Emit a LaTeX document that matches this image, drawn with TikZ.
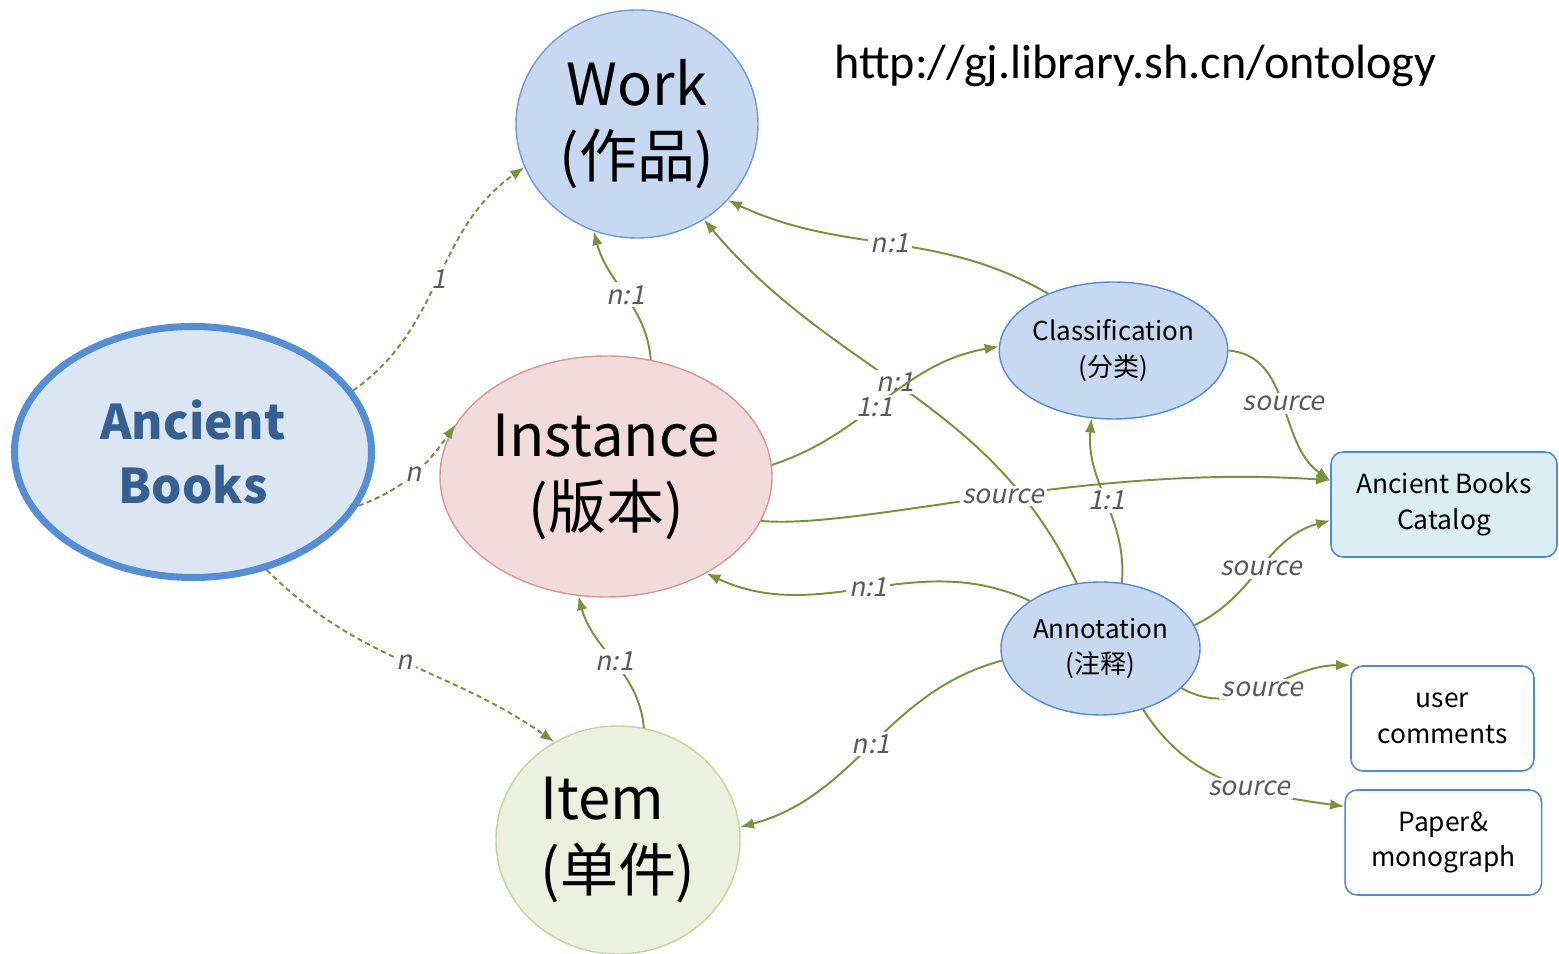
\documentclass[tikz,border=0pt]{standalone}
\usepackage{fontspec}
\setmainfont{Noto Sans CJK SC}
\newfontfamily\urlfont{Carlito}
\newfontfamily\lblfont[FakeSlant=0.2]{Noto Sans CJK SC}
\usetikzlibrary{shapes,arrows.meta,positioning}
\definecolor{arc}{RGB}{118,146,60}
\definecolor{lblgray}{RGB}{89,89,89}
\definecolor{workfill}{RGB}{198,217,240}
\definecolor{workline}{RGB}{108,155,214}
\definecolor{abfill}{RGB}{220,230,242}
\definecolor{abline}{RGB}{85,142,213}
\definecolor{abtext}{RGB}{55,96,146}
\definecolor{instfill}{RGB}{242,220,219}
\definecolor{instline}{RGB}{217,150,148}
\definecolor{itemfill}{RGB}{235,241,222}
\definecolor{itemline}{RGB}{195,214,155}
\definecolor{catfill}{RGB}{218,238,243}
\definecolor{boxline}{RGB}{84,138,212}

\begin{document}
\begin{tikzpicture}[>={Latex[length=4pt,width=3pt]},
    big/.style={ellipse,draw,line width=.4pt,inner sep=0pt,align=center,font=\fontsize{16.5}{20.5}\selectfont},
    mid/.style={ellipse,draw=boxline,fill=workfill,line width=.4pt,inner sep=0pt,align=center,font=\fontsize{7.4}{10.2}\selectfont},
    src/.style={rectangle,rounded corners=.12cm,draw=boxline,line width=.45pt,align=center,minimum height=1.05cm,font=\fontsize{7.5}{10.2}\selectfont},
    lbl/.style={font=\lblfont\fontsize{7.5}{9}\selectfont,text=lblgray,fill=white,inner sep=.8pt},
    every edge/.style={draw=arc,line width=.55pt},
    linkdash/.style={dash pattern=on 1.5pt off 1pt}]
    \useasboundingbox (0,0) rectangle (15.59,-9.54);

    % classes
    \node[big,fill=workfill,draw=workline,minimum width=2.42cm,minimum height=2.28cm] (work) at (6.37,-1.24) {Work\\(作品)};
    \node[big,fill=abfill,draw=abline,line width=2pt,minimum width=3.57cm,minimum height=2.51cm,font=\bfseries\fontsize{13.6}{18}\selectfont,text=abtext] (ab) at (1.93,-4.52) {Ancient\\Books};
    \node[big,fill=instfill,draw=instline,minimum width=3.32cm,minimum height=2.41cm] (inst) at (6.06,-4.765) {Instance\\(版本)};
    \node[big,fill=itemfill,draw=itemline,minimum width=2.44cm,minimum height=2.28cm,align=left] (item) at (6.18,-8.40) {Item\\(单件)};
    \node[mid,minimum width=2.25cm,minimum height=1.37cm] (cls) at (11.135,-3.505) {Classification\\(分类)};
    \node[mid,minimum width=1.99cm,minimum height=1.33cm] (ann) at (11.005,-6.485) {Annotation\\(注释)};

    % sources
    \node[src,fill=catfill,minimum width=2.26cm] (abc) at (14.44,-5.045) {Ancient Books\\Catalog};
    \node[src,fill=white,minimum width=1.83cm] (uc) at (14.425,-7.185) {user\\comments};
    \node[src,fill=white,minimum width=1.965cm] (pm) at (14.433,-8.425) {Paper\&\\monograph};

    \node[font=\urlfont\fontsize{13.7}{16}\selectfont] (url) at (11.355,-0.655) {http://gj.library.sh.cn/ontology};

    \path[->]
        (ab.21)    edge[linkdash,out=35,in=215]   node[lbl]          {1}      (work.201)
        (ab.-18)   edge[linkdash,out=20,in=235]   node[lbl]          {n}      (inst.161)
        (ab.-58)   edge[linkdash,out=-45,in=145]  node[lbl]          {n}      (item.123)
        (inst.69)  edge[out=95,in=-75]            node[lbl]          {n:1}    (work.248)
        (cls.139)  edge[out=150,in=-25]           node[lbl]          {n:1}    (work.-40)
        (ann.110)  edge[out=115,in=-50]           node[lbl,pos=.53]  {n:1}    (work.-55)
        (inst.4)   edge[out=18,in=190]            node[lbl,pos=.45]  {1:1}    (cls.178)
        (inst.-16) edge[out=-5,in=176,out looseness=.45,in looseness=1.1] node[lbl,pos=.52] {source} (abc.168)
        (ann.72)   edge[out=85,in=-95]            node[lbl]          {1:1}    (cls.-108)
        (cls.east) edge[out=-5,in=145]            node[lbl]          {source} (abc.168)
        (ann.14)   edge[out=25,in=195]            node[lbl]          {source} (abc.188)
        (ann.146)  edge[out=155,in=-25]           node[lbl]          {n:1}    (inst.-44.5)
        (ann.187)  edge[out=195,in=15]            node[lbl]          {n:1}    (item.6)
        (ann.-26)  edge[out=-30,in=180]           node[lbl]          {source} (uc.150)
        (ann.-55)  edge[out=-58,in=172]           node[lbl,pos=.6]   {source} (pm.160)
        (item.77)  edge[out=95,in=-75]            node[lbl]          {n:1}    (inst.257);
\end{tikzpicture}
\end{document}
